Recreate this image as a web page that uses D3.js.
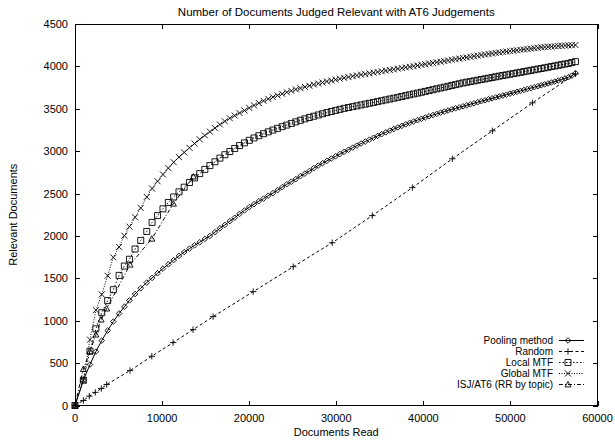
<!DOCTYPE html>
<html>
<head>
<meta charset="utf-8">
<script src="https://cdn.jsdelivr.net/npm/d3@7/dist/d3.min.js"></script>
<style>
  html, body { margin: 0; padding: 0; background: #fff; }
  svg { display: block; font-family: "Liberation Sans", Arial, Helvetica, sans-serif; }
</style>
</head>
<body>
<svg id="chart" width="615" height="442"></svg>
<script>
// Documents read at each evaluation step (shared by the three ranked methods)
const docsRead = [
  0, 960, 1720, 2400, 3070, 3750, 4400, 5060, 5670, 6250, 6900, 7550, 8240, 8850, 9480,
  10100, 10720, 11330, 11940, 12540, 13140, 13730, 14320, 14910, 15490, 16070, 16640, 17210,
  17780, 18340, 18900, 19460, 20010, 20560, 21110, 21650, 22190, 22730, 23260, 23790, 24320,
  24840, 25360, 25880, 26400, 26910, 27420, 27930, 28430, 28930, 29430, 29930, 30420, 30910,
  31400, 31890, 32370, 32850, 33330, 33810, 34280, 34750, 35220, 35690, 36150, 36610, 37070,
  37530, 37980, 38430, 38880, 39330, 39780, 40220, 40660, 41100, 41540, 41980, 42410, 42840,
  43270, 43700, 44130, 44560, 44980, 45400, 45820, 46240, 46660, 47080, 47490, 47900, 48310,
  48720, 49130, 49540, 49950, 50350, 50750, 51150, 51550, 51950, 52350, 52750, 53150, 53540,
  53930, 54320, 54710, 55100, 55490, 55880, 56270, 56660, 57050, 57470
];

const poolingMethod = [
  0, 298, 483, 636, 766, 884, 990, 1085, 1165, 1240, 1315, 1383, 1450, 1505, 1560,
  1615, 1665, 1715, 1765, 1810, 1850, 1890, 1925, 1965, 2000, 2045, 2090, 2130,
  2175, 2215, 2260, 2300, 2340, 2375, 2410, 2440, 2475, 2505, 2540, 2575, 2610,
  2640, 2670, 2705, 2735, 2765, 2800, 2830, 2858, 2886, 2913, 2940, 2966, 2992,
  3017, 3042, 3066, 3090, 3113, 3136, 3158, 3180, 3201, 3222, 3242, 3261, 3280,
  3298, 3316, 3333, 3350, 3366, 3382, 3397, 3412, 3426, 3440, 3454, 3467, 3480,
  3493, 3505, 3517, 3529, 3541, 3553, 3565, 3577, 3589, 3600, 3612, 3623, 3634,
  3645, 3656, 3667, 3678, 3689, 3700, 3711, 3722, 3733, 3744, 3755, 3766, 3777,
  3788, 3799, 3810, 3821, 3833, 3845, 3858, 3872, 3890, 3920
];

const localMTF = [
  0, 298, 640, 905, 1095, 1237, 1366, 1535, 1645, 1725, 1846, 1947, 2053, 2160, 2240,
  2320, 2395, 2460, 2520, 2575, 2630, 2685, 2735, 2785, 2830, 2875, 2918, 2958,
  2996, 3032, 3066, 3098, 3128, 3156, 3182, 3206, 3228, 3249, 3269, 3289, 3308,
  3327, 3346, 3364, 3381, 3397, 3412, 3427, 3441, 3455, 3468, 3481, 3493, 3505,
  3515, 3525, 3535, 3545, 3555, 3565, 3575, 3585, 3595, 3605, 3615, 3625, 3635,
  3645, 3655, 3665, 3675, 3685, 3695, 3705, 3715, 3725, 3735, 3745, 3755, 3765,
  3775, 3785, 3795, 3805, 3813, 3821, 3829, 3837, 3845, 3853, 3861, 3869, 3877,
  3885, 3893, 3900, 3908, 3915, 3923, 3930, 3938, 3945, 3953, 3960, 3968, 3975,
  3983, 3990, 3998, 4005, 4013, 4020, 4028, 4035, 4045, 4056
];

const globalMTF = [
  0, 298, 777, 1125, 1310, 1530, 1747, 1870, 2003, 2110, 2220, 2330, 2460, 2560, 2645,
  2725, 2800, 2870, 2930, 2985, 3040, 3090, 3140, 3185, 3230, 3272, 3315, 3352,
  3388, 3420, 3450, 3480, 3510, 3540, 3568, 3594, 3617, 3638, 3658, 3677, 3695,
  3712, 3728, 3743, 3758, 3772, 3786, 3798, 3810, 3822, 3833, 3844, 3854, 3864,
  3874, 3884, 3893, 3902, 3910, 3918, 3926, 3934, 3942, 3950, 3958, 3965, 3973,
  3980, 3988, 3995, 4003, 4010, 4018, 4025, 4033, 4040, 4048, 4055, 4063, 4070,
  4078, 4085, 4092, 4099, 4106, 4113, 4120, 4127, 4134, 4140, 4146, 4152, 4158,
  4164, 4170, 4175, 4180, 4185, 4190, 4195, 4200, 4205, 4210, 4215, 4220, 4224,
  4228, 4231, 4234, 4237, 4240, 4243, 4246, 4248, 4250, 4252
];

// Random ordering, evaluated at its own (sparser) steps
const randomDocs = [0, 960, 1640, 2330, 3020, 3640, 6320, 8820, 11260, 13560, 15860, 20460,
  25060, 29540, 34140, 38740, 43330, 47930, 52530, 57470];
const randomRel = [0, 59, 110, 155, 200, 247, 412, 581, 742, 895, 1048, 1343,
  1637, 1920, 2240, 2570, 2910, 3240, 3570, 3911];

// ISJ/AT6, round robin by topic
const isjDocs = [0, 960, 1720, 2410, 3000, 3640, 6320, 8820, 11300, 13600];
const isjRel = [0, 430, 640, 836, 1013, 1143, 1661, 1967, 2380, 2700];

const xTicks = [0, 10000, 20000, 30000, 40000, 50000, 60000];
const yTicks = [0, 500, 1000, 1500, 2000, 2500, 3000, 3500, 4000, 4500];

const titleText = "Number of Documents Judged Relevant with AT6 Judgements";
const xLabel = "Documents Read";
const yLabel = "Relevant Documents";

const seriesNames = ["Pooling method", "Random", "Local MTF", "Global MTF", "ISJ/AT6 (RR by topic)"];

// ---------------------------------------------------------------------------
const svg = d3.select("#chart");
const plot = { left: 75, right: 597.5, top: 24, bottom: 405.5 };

const x = d3.scaleLinear().domain([0, 60000]).range([plot.left, plot.right]);
const y = d3.scaleLinear().domain([0, 4500]).range([plot.bottom, plot.top]);

// Marker shapes (drawn around the origin, half-size s)
const shapes = {
  diamond: s => `M0,${-s}L${s},0L0,${s}L${-s},0Z`,
  plus: s => `M${-s},0H${s}M0,${-s}V${s}`,
  square: s => `M${-s},${-s}H${s}V${s}H${-s}Z`,
  cross: s => `M${-s},${-s}L${s},${s}M${-s},${s}L${s},${-s}`,
  triangle: s => `M0,${-s}L${s},${s * 0.8}L${-s},${s * 0.8}Z`
};

const series = [
  { name: seriesNames[0], xs: docsRead, ys: poolingMethod, dash: null, shape: "diamond", size: 2.8 },
  { name: seriesNames[1], xs: randomDocs, ys: randomRel, dash: "3,2.5", shape: "plus", size: 3.2 },
  { name: seriesNames[2], xs: docsRead, ys: localMTF, dash: "1.5,2", shape: "square", size: 3.0 },
  { name: seriesNames[3], xs: docsRead, ys: globalMTF, dash: "1,1.5", shape: "cross", size: 3.0 },
  { name: seriesNames[4], xs: isjDocs, ys: isjRel, dash: "4,2,1,2", shape: "triangle", size: 3.0 }
];

const tickLen = 5;
const axisG = svg.append("g").attr("stroke", "#000").attr("stroke-width", 1).attr("shape-rendering", "crispEdges");

// Frame
axisG.append("rect")
  .attr("x", plot.left).attr("y", plot.top)
  .attr("width", plot.right - plot.left).attr("height", plot.bottom - plot.top)
  .attr("fill", "none");

// Inward ticks on all four sides
xTicks.forEach(t => {
  const px = Math.round(x(t)) + 0.5;
  axisG.append("line").attr("x1", px).attr("x2", px).attr("y1", plot.bottom).attr("y2", plot.bottom - tickLen);
  axisG.append("line").attr("x1", px).attr("x2", px).attr("y1", plot.top).attr("y2", plot.top + tickLen);
});
yTicks.forEach(t => {
  const py = Math.round(y(t)) + 0.5;
  axisG.append("line").attr("x1", plot.left).attr("x2", plot.left + tickLen).attr("y1", py).attr("y2", py);
  axisG.append("line").attr("x1", plot.right).attr("x2", plot.right - tickLen).attr("y1", py).attr("y2", py);
});

const fontSize = 11;
const labels = svg.append("g").attr("fill", "#000").attr("font-size", fontSize);

labels.selectAll("text.xt").data(xTicks).join("text")
  .attr("class", "xt")
  .attr("x", d => x(d)).attr("y", plot.bottom + 16)
  .attr("text-anchor", "middle").text(d => d);

labels.selectAll("text.yt").data(yTicks).join("text")
  .attr("class", "yt")
  .attr("x", plot.left - 7).attr("y", d => y(d) + 4)
  .attr("text-anchor", "end").text(d => d);

labels.append("text").attr("x", (plot.left + plot.right) / 2).attr("y", 15.5)
  .attr("font-size", 11.5)
  .attr("text-anchor", "middle").text(titleText);

labels.append("text").attr("x", (plot.left + plot.right) / 2).attr("y", 436)
  .attr("text-anchor", "middle").text(xLabel);

labels.append("text")
  .attr("transform", `translate(17,${(plot.top + plot.bottom) / 2}) rotate(-90)`)
  .attr("text-anchor", "middle").text(yLabel);

// Series lines and markers
const lineGen = d3.line().x(d => x(d[0])).y(d => y(d[1]));
const dataG = svg.append("g");

series.forEach(s => {
  const pts = s.xs.map((v, i) => [v, s.ys[i]]);
  const g = dataG.append("g");
  g.append("path")
    .attr("d", lineGen(pts))
    .attr("fill", "none").attr("stroke", "#000").attr("stroke-width", 1)
    .attr("stroke-dasharray", s.dash);
  g.selectAll("path.m").data(pts).join("path")
    .attr("class", "m")
    .attr("transform", d => `translate(${x(d[0])},${y(d[1])})`)
    .attr("d", shapes[s.shape](s.size))
    .attr("fill", "none").attr("stroke", "#000").attr("stroke-width", 0.9);
});

// Legend
const legend = svg.append("g").attr("font-size", 10);
const legendTop = 340.5, legendStep = 11;
series.forEach((s, i) => {
  const ly = legendTop + i * legendStep;
  legend.append("text").attr("x", 553).attr("y", ly + 3.6).attr("text-anchor", "end").text(s.name);
  legend.append("line").attr("x1", 559).attr("x2", 584).attr("y1", ly).attr("y2", ly)
    .attr("stroke", "#000").attr("stroke-width", 1).attr("stroke-dasharray", s.dash);
  legend.append("path").attr("transform", `translate(568,${ly})`)
    .attr("d", shapes[s.shape](s.size))
    .attr("fill", "none").attr("stroke", "#000").attr("stroke-width", 0.9);
});
</script>
</body>
</html>
